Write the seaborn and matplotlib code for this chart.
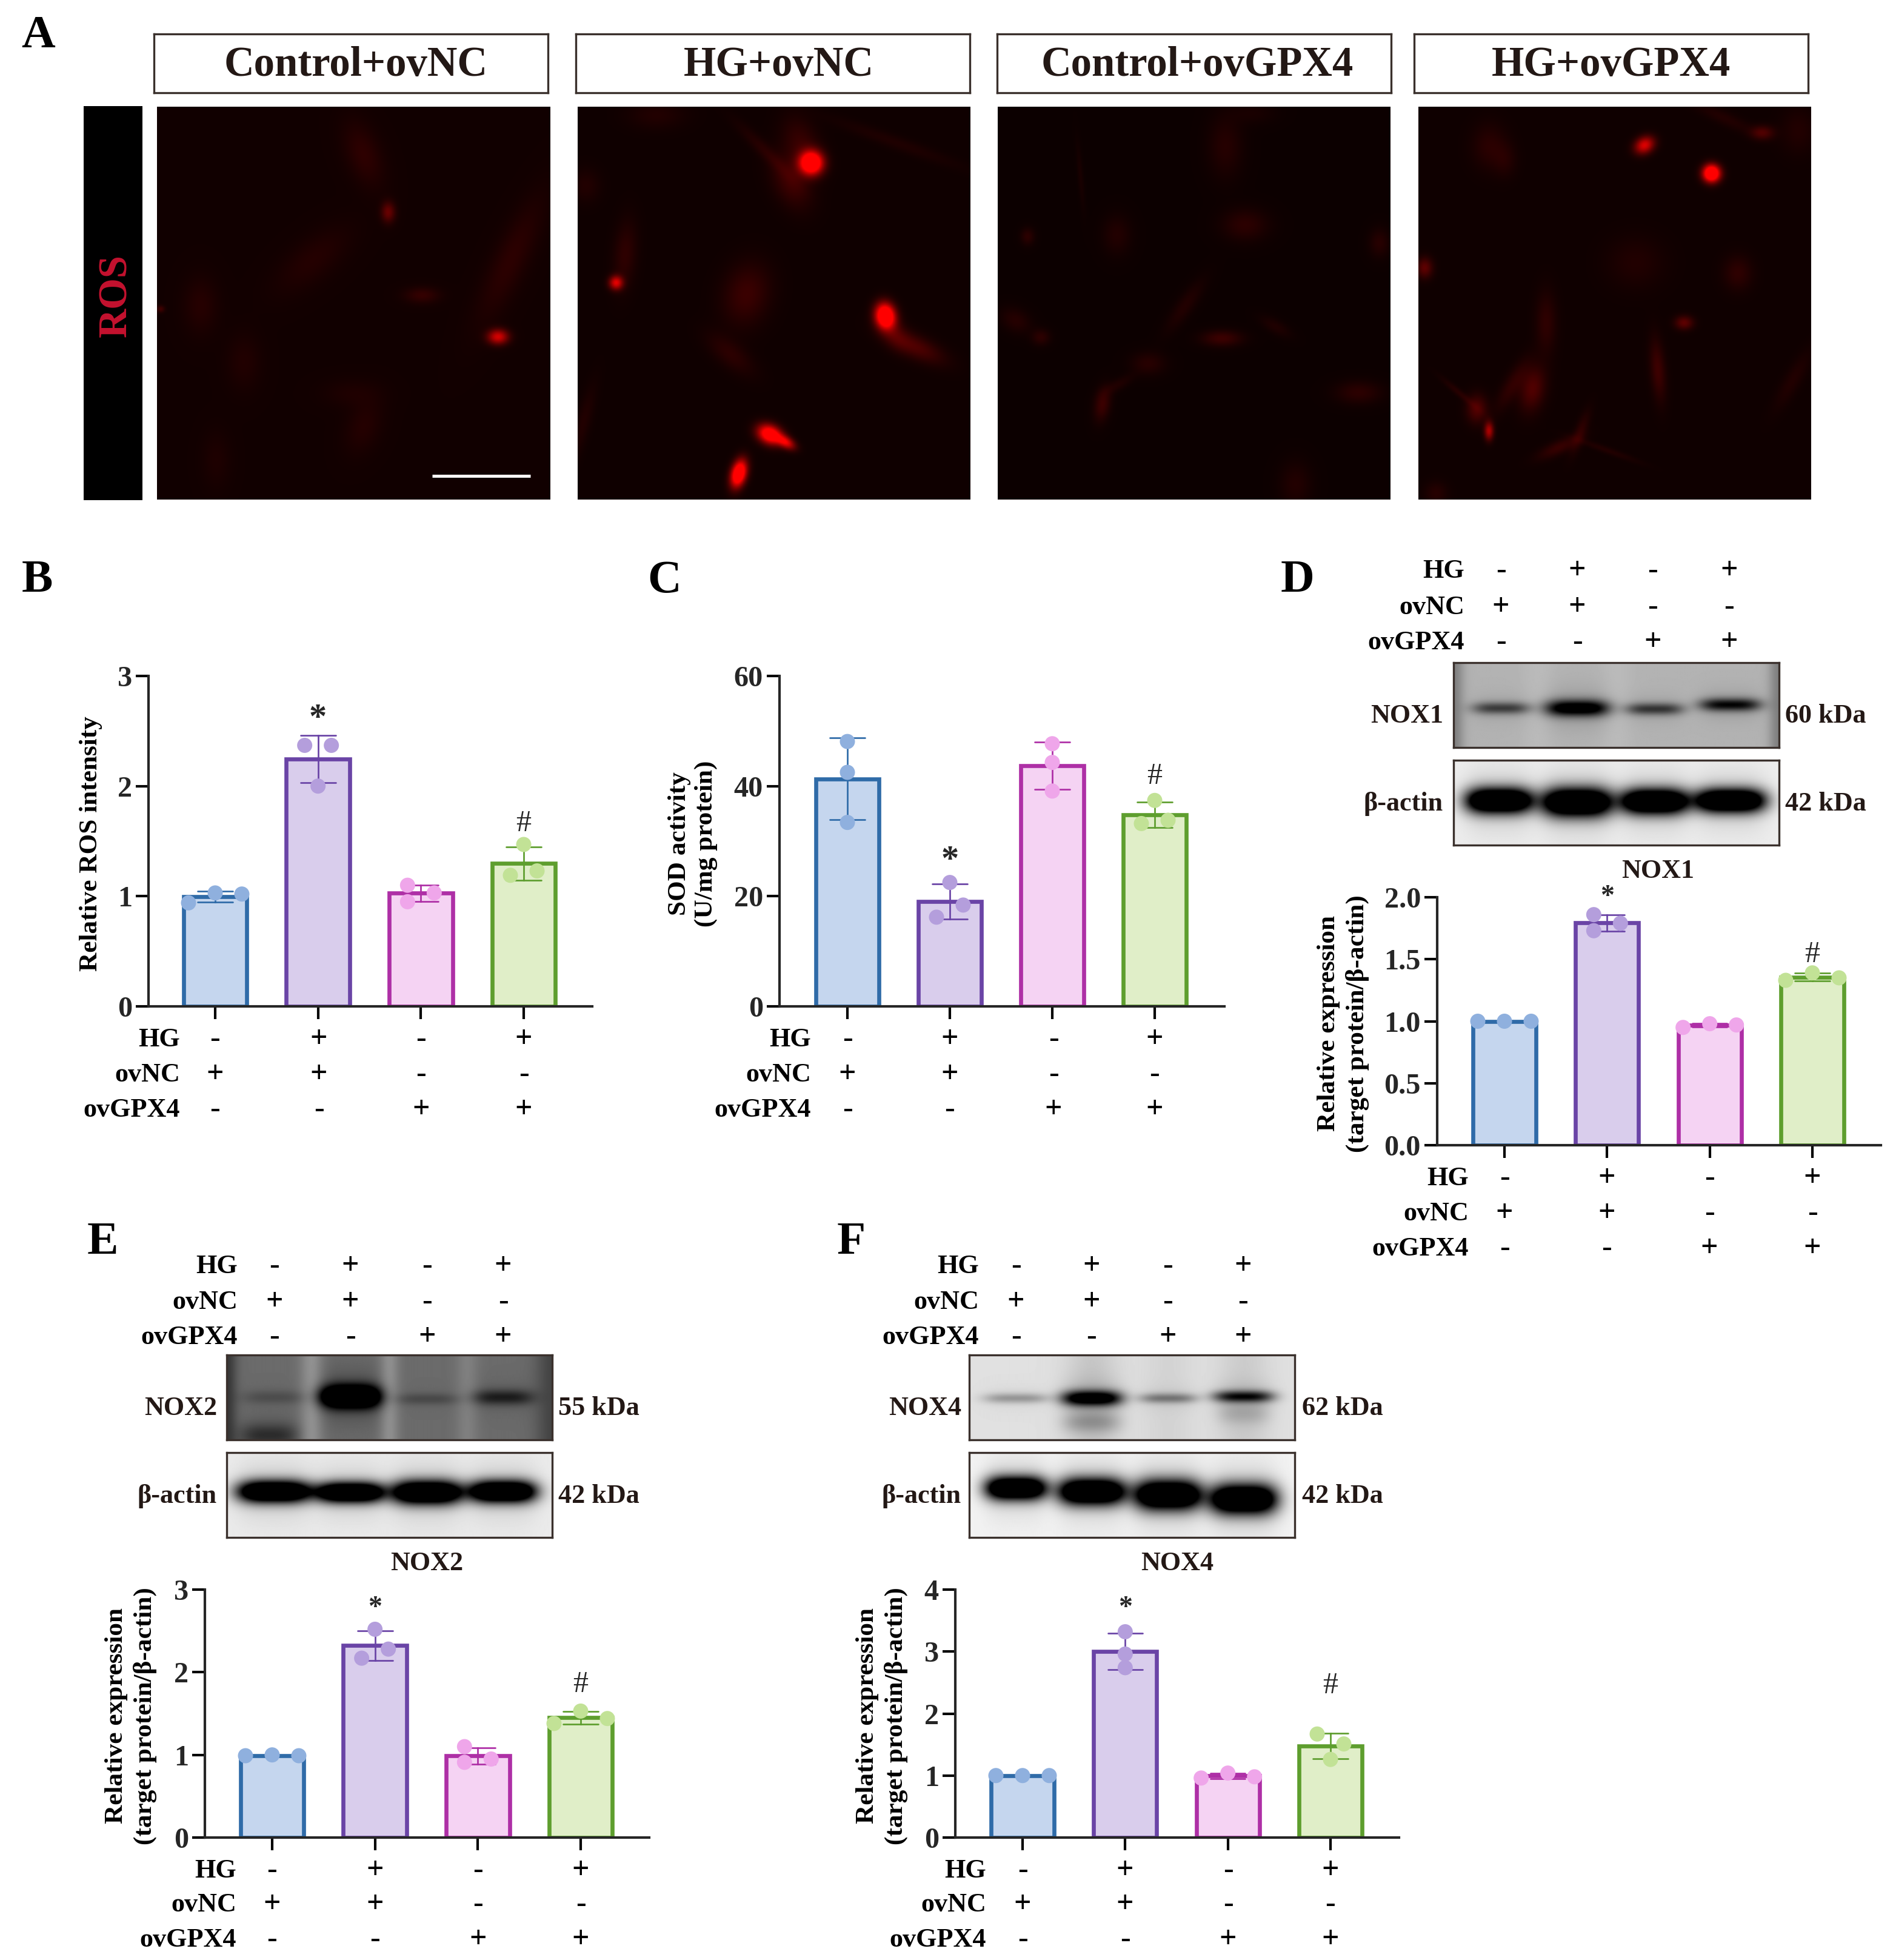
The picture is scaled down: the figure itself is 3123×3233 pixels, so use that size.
import numpy as np
import pandas as pd
import matplotlib
matplotlib.use('Agg')
import matplotlib.pyplot as plt
import seaborn as sns

W, H = 3123, 3233

GROUPS = [0, 1, 2, 3]
FILL = ['#C5D6EE', '#D9CDEC', '#F5D3F3', '#E0EEC8']
EDGE = ['#2F6BA8', '#6A44A6', '#AE2FA6', '#5E9E2E']
DOTS = ['#8FB0DE', '#B49EDC', '#EFA6EA', '#C2E296']

HG = ['-', '+', '-', '+']
OVNC = ['+', '+', '-', '-']
OVGPX4 = ['-', '-', '+', '+']
ROW_NAMES = ['HG', 'ovNC', 'ovGPX4']
HEADERS = ['Control+ovNC', 'HG+ovNC', 'Control+ovGPX4', 'HG+ovGPX4']

# three replicates per group
ROS = [[0.94, 1.03, 1.02], [2.37, 2.37, 2.00], [1.10, 1.03, 0.95], [1.47, 1.23, 1.19]]
SOD = [[48.1, 42.5, 33.4], [22.5, 18.4, 16.2], [47.7, 44.3, 39.1], [37.4, 33.8, 33.2]]
NOX1 = [[1.00, 1.00, 1.00], [1.86, 1.79, 1.73], [0.95, 0.98, 0.97], [1.33, 1.39, 1.35]]
NOX2 = [[0.99, 1.00, 0.99], [2.52, 2.28, 2.17], [1.10, 0.95, 0.91], [1.38, 1.53, 1.44]]
NOX4 = [[1.00, 1.00, 1.00], [3.32, 2.96, 2.74], [0.96, 1.04, 0.98], [1.67, 1.51, 1.26]]

# side of the bar centre each dot sits on
ROS_SIDE = [[-2, 0, 2], [-1, 1, 0], [-1, 1, -1], [0, 1, -1]]
SOD_SIDE = [[0, 0, 0], [0, 1, -1], [0, 0, 0], [0, 1, -1]]
NOX1_SIDE = [[-2, 0, 2], [-1, 1, -1], [-2, 0, 2], [-2, 0, 2]]
NOX2_SIDE = [[-2, 0, 2], [0, 1, -1], [-1, 1, -1], [-2, 0, 2]]
NOX4_SIDE = [[-2, 0, 2], [0, 0, 0], [-2, 0, 2], [-1, 1, 0]]

# micrograph spots: x, y, long, short, angle, brightness
CELLS_1 = [(.525, .12, .06, .03, 70, .18), (.588, .268, .018, .012, 90, .55), (.397, .389, .08, .035, -40, .12),
           (.90, .39, .12, .03, -65, .17), (.674, .48, .03, .014, 0, .22), (.868, .586, .018, .013, 0, .75),
           (.11, .506, .05, .03, 90, .13), (.22, .65, .05, .03, 90, .10), (.495, .73, .05, .025, 0, .08),
           (.525, .815, .05, .03, 110, .12), (.15, .90, .05, .025, 90, .08), (.008, .515, .007, .006, 0, .3)]
CELLS_2 = [(.20, .02, .05, .025, 0, .12), (.595, .142, .02, .02, 0, 1.6), (.57, .095, .05, .03, 70, .25),
           (.543, .19, .05, .03, 65, .3), (.48, .115, .07, .012, 45, .15), (.81, .09, .12, .012, 20, .10),
           (.02, .2, .03, .025, 90, .12), (.12, .376, .06, .02, 95, .2), (.097, .448, .012, .012, 0, .8),
           (.43, .477, .055, .04, 105, .28), (.784, .533, .022, .017, 80, 1.6), (.858, .61, .055, .02, 25, .4),
           (.808, .577, .03, .02, 60, .25), (.389, .63, .05, .022, 40, .18), (.489, .835, .022, .016, 25, 1.3),
           (.53, .855, .018, .01, 30, .8), (.41, .935, .024, .013, 105, 1.5), (.013, .805, .07, .013, 105, .12)]
CELLS_3 = [(.58, .10, .055, .03, 90, .16), (.65, .015, .04, .02, 0, .08), (.21, .175, .06, .005, 85, .08),
           (.075, .33, .015, .012, 90, .2), (.303, .326, .035, .025, 90, .14), (.63, .30, .04, .028, 0, .2),
           (.973, .346, .025, .018, 90, .17), (.477, .507, .055, .015, -55, .14), (.045, .544, .028, .02, 30, .16),
           (.109, .587, .016, .014, 0, .2), (.571, .59, .035, .014, 0, .3), (.708, .56, .03, .012, 30, .12),
           (.383, .654, .03, .02, 0, .17), (.306, .708, .03, .01, -30, .12), (.266, .758, .03, .014, 100, .3),
           (.92, .728, .04, .02, 0, .2), (.759, .962, .04, .028, 90, .14)]
CELLS_4 = [(.18, .10, .04, .03, 90, .17), (.22, .135, .03, .02, 90, .12), (.576, .097, .018, .014, -30, .8),
           (.747, .169, .015, .015, 0, 1.6), (.877, .065, .02, .012, 0, .4), (.78, .028, .06, .012, 25, .12),
           (.968, .06, .04, .03, 90, .12), (.015, .41, .018, .014, 90, .5), (.553, .396, .05, .045, 0, .12),
           (.814, .423, .03, .025, 90, .2), (.325, .55, .055, .018, 90, .2), (.29, .718, .04, .022, 100, .42),
           (.238, .71, .05, .015, -60, .2), (.148, .77, .025, .018, 90, .42), (.104, .73, .04, .006, 40, .15),
           (.179, .826, .016, .008, 90, .6), (.677, .55, .016, .012, 0, .5), (.61, .67, .055, .013, 85, .3),
           (.412, .83, .04, .01, -70, .2), (.358, .868, .04, .012, -25, .25), (.479, .875, .06, .006, 20, .12),
           (.954, .697, .06, .015, -60, .12), (.044, .985, .02, .02, 0, .15)]

# blot bands: x, half width, y, half height, darkness
NOX1_BANDS = [(.146, .09, .54, .07, .42), (.38, .10, .54, .095, .80), (.618, .09, .55, .07, .45), (.851, .095, .50, .075, .62)]
NOX1_ACTIN = [(.14, .105, .48, .15, 1.5), (.38, .11, .50, .17, 1.5), (.618, .105, .49, .15, 1.5), (.851, .11, .48, .14, 1.5)]
NOX2_BANDS = [(.146, .10, .50, .08, .10), (.38, .095, .49, .13, .95), (.616, .10, .52, .07, .12), (.849, .095, .50, .09, .28), (.13, .09, .95, .14, .22)]
NOX2_ACTIN = [(.146, .115, .46, .13, 1.5), (.38, .105, .47, .12, 1.5), (.616, .11, .47, .14, 1.5), (.849, .105, .46, .13, 1.5)]
NOX4_BANDS = [(.143, .10, .51, .06, .26), (.376, .095, .51, .09, .95), (.61, .09, .51, .06, .34), (.842, .095, .49, .07, .70), (.376, .09, .80, .12, .18), (.842, .08, .70, .13, .12)]
NOX4_ACTIN = [(.143, .095, .42, .14, 1.5), (.376, .105, .46, .16, 1.5), (.61, .105, .50, .18, 1.5), (.842, .105, .55, .18, 1.5)]

sns.set_theme(style='ticks')
plt.rcParams['font.family'] = ['Liberation Serif', 'DejaVu Serif']
plt.rcParams['font.weight'] = 'bold'
plt.rcParams['axes.linewidth'] = 1.0

fig = plt.figure(figsize=(W / 300, H / 300), dpi=300)


def px_axes(x0, y0, x1, y1):
    return fig.add_axes([x0 / W, 1 - y1 / H, (x1 - x0) / W, (y1 - y0) / H])


def put(x, y, s, size=10.6, ha='right', color='black', **kw):
    # the +4 keeps text visually centred on its row
    fig.text(x / W, 1 - (y + 4) / H, s, fontsize=size, ha=ha, va='center', color=color, **kw)


def sign_table(right, cols, rows):
    for name, row_y, signs in zip(ROW_NAMES, rows, [HG, OVNC, OVGPX4]):
        put(right, row_y, name)
        for cx, sign in zip(cols, signs):
            put(cx, row_y, sign, size=12, ha='center')


def bar_panel(values, sides, ymax, ticks, rect, centres, ylabel, label_x, star, hash_,
              fmt='%d', star_size=11, spacing=1.3):
    x0, y0, x1, y1 = rect
    ax = px_axes(x0, y0, x1, y1)
    step = (centres[-1] - centres[0]) / 3
    df = pd.DataFrame({
        'group': np.repeat(GROUPS, 3),
        'value': np.ravel(values),
        'side': np.ravel(sides),
    })
    df['pos'] = df['group'] + df['side'] * 22 / step
    sns.barplot(data=df, x='group', y='value', hue='group', palette=dict(zip(GROUPS, FILL)),
                saturation=1, dodge=False, width=0.615, estimator='mean', errorbar='sd',
                capsize=0.34, err_kws={'linewidth': 0.65}, legend=False, ax=ax)
    for g, cont in enumerate(ax.containers):
        for bar in cont:
            bar.set_edgecolor(EDGE[g])
            bar.set_linewidth(1.6)
    for line in ax.lines:
        xs = np.asarray(line.get_xdata(), dtype=float)
        if np.isnan(xs).all():
            continue
        line.set_color(EDGE[int(round(np.nanmean(xs)))])
        line.set_clip_on(False)
        line.set_zorder(3)
    sns.scatterplot(data=df, x='pos', y='value', hue='group', palette=dict(zip(GROUPS, DOTS)),
                    s=36, linewidth=0, legend=False, clip_on=False, zorder=4, ax=ax)
    ax.set_xlim((x0 - centres[0]) / step, 3 + (x1 - centres[-1]) / step)
    ax.set_ylim(0, ymax)
    ax.set_yticks(ticks)
    ax.set_yticklabels([fmt % t for t in ticks], fontsize=11.6, fontweight='bold')
    ax.set_xticks(GROUPS)
    ax.set_xticklabels([])
    ax.tick_params(length=5, width=1, color='black', pad=1.5)
    ax.set_xlabel('')
    ax.set_ylabel('')
    ax.patch.set_alpha(0)
    sns.despine(ax=ax)
    ax.text(1, star, '*', fontsize=star_size, ha='center', va='center')
    ax.text(3, hash_, '#', fontsize=12, ha='center', va='center', fontweight='normal')
    put(label_x, (y0 + y1) / 2, ylabel, size=10.4, ha='center', rotation=90, linespacing=spacing)
    return ax


def micrograph(x0, cells, bg):
    ax = px_axes(x0, 176, x0 + 648, 824)
    n = 420
    yy, xx = np.mgrid[0:1:n * 1j, 0:1:n * 1j]
    red = np.full((n, n), bg)
    for cx, cy, a, b, ang, amp in cells:
        t = np.deg2rad(ang)
        u = (xx - cx) * np.cos(t) + (yy - cy) * np.sin(t)
        v = -(xx - cx) * np.sin(t) + (yy - cy) * np.cos(t)
        # faint cell bodies sit well under the nuclei in the photographs
        level = amp * 0.6 if amp < 0.6 else amp
        red = red + level * np.exp(-0.5 * ((u / a) ** 2 + (v / b) ** 2))
    img = np.zeros((n, n, 3))
    img[..., 0] = np.clip(red, 0, 1)
    ax.imshow(img, aspect='auto', extent=(0, 1, 1, 0))
    ax.axis('off')
    return ax


def blot(rect, bg, bands, streaks=()):
    x0, y0, x1, y1 = rect
    ax = px_axes(x0, y0, x1, y1)
    yy, xx = np.mgrid[0:1:140j, 0:1:540j]
    img = np.full(xx.shape, float(bg))
    for xc, wid, delta in streaks:
        img = img + delta * np.exp(-((xx - xc) / wid) ** 2)
    for xc, hw, yc, hh, dark in bands:
        across = np.exp(-np.abs((xx - xc) / hw) ** 3.5)
        img = img - dark * across * np.exp(-((yy - yc) / hh) ** 2)
        img = img - 0.12 * min(dark, 1) * across * np.exp(-((yy - yc) / (hh * 2.6)) ** 2)
    ax.imshow(np.clip(img, 0, 1), cmap='gray', vmin=0, vmax=1, aspect='auto', extent=(0, 1, 1, 0))
    ax.set_xticks([])
    ax.set_yticks([])
    for sp in ax.spines.values():
        sp.set_linewidth(0.8)
        sp.set_color('#3A302C')


def blot_panel(box_x, tops, name, kda, bands, actin, bg, streaks, label_r, kda_l, title_x, title_y, actin_bg=.93):
    blot((box_x[0], tops[0], box_x[1], tops[0] + 140), bg, bands, streaks)
    blot((box_x[0], tops[1], box_x[1], tops[1] + 140), actin_bg, actin)
    put(label_r, tops[0] + 84, name, color='#231815')
    put(label_r, tops[1] + 68, 'β-actin', color='#231815')
    put(kda_l, tops[0] + 84, kda, ha='left', color='#231815')
    put(kda_l, tops[1] + 68, '42 kDa', ha='left', color='#231815')
    put(title_x, title_y, name, ha='center', color='#231815')


# panel A
for hx, tx, text in zip([254, 950, 1645, 2333], [587, 1285, 1975, 2658], HEADERS):
    box = px_axes(hx, 56, hx + 650, 153)
    box.set_xticks([])
    box.set_yticks([])
    for sp in box.spines.values():
        sp.set_linewidth(0.8)
        sp.set_color('#3A302C')
    put(tx, 104, text, size=16.5, ha='center', color='#231815')

tag = px_axes(138, 175, 235, 825)
tag.set_facecolor('black')
tag.set_xticks([])
tag.set_yticks([])
for sp in tag.spines.values():
    sp.set_visible(False)
put(192, 484, 'ROS', size=16, ha='center', color='#C4122F', rotation=90)

m1 = micrograph(259, CELLS_1, .07)
micrograph(953, CELLS_2, .06)
micrograph(1646, CELLS_3, .05)
micrograph(2340, CELLS_4, .06)
m1.plot([.70, .95], [.94, .94], color='white', lw=1.2, solid_capstyle='butt')

# letters
for lx, ly, s in [(35, 56, 'A'), (36, 954, 'B'), (1068, 954, 'C'), (2113, 954, 'D'), (144, 2046, 'E'), (1381, 2046, 'F')]:
    put(lx, ly, s, size=18.5, ha='left')

# bar panels
bar_panel(ROS, ROS_SIDE, 3, [0, 1, 2, 3], (245, 1115, 977, 1660), [355, 526, 695, 864],
          'Relative ROS intensity', 150, 2.61, 1.66, star_size=14)
sign_table(297, [355, 526, 695, 864], [1711, 1769, 1827])

bar_panel(SOD, SOD_SIDE, 60, [0, 20, 40, 60], (1286, 1115, 2020, 1660), [1398, 1567, 1738, 1905],
          'SOD activity\n(U/mg protein)', 1143, 26.4, 41.8, star_size=14, spacing=1.2)
sign_table(1338, [1398, 1567, 1738, 1905], [1711, 1769, 1827])

bar_panel(NOX1, NOX1_SIDE, 2, [0, .5, 1, 1.5, 2], (2371, 1480, 3103, 1889), [2482, 2651, 2820, 2990],
          'Relative expression\n(target protein/β-actin)', 2216, 2.0, 1.535, fmt='%.1f')
sign_table(2423, [2482, 2651, 2820, 2990], [1940, 1998, 2056])

bar_panel(NOX2, NOX2_SIDE, 3, [0, 1, 2, 3], (338, 2622, 1071, 3031), [449, 619, 789, 958],
          'Relative expression\n(target protein/β-actin)', 216, 2.77, 1.85)
sign_table(390, [449, 619, 789, 958], [3082, 3138, 3196])

bar_panel(NOX4, NOX4_SIDE, 4, [0, 1, 2, 3, 4], (1576, 2622, 2308, 3031), [1687, 1856, 2026, 2195],
          'Relative expression\n(target protein/β-actin)', 1455, 3.70, 2.45)
sign_table(1627, [1687, 1856, 2026, 2195], [3082, 3138, 3196])

# blots with their sign rows
sign_table(2416, [2476, 2602, 2727, 2853], [938, 998, 1056])
blot_panel((2398, 2935), (1093, 1254), 'NOX1', '60 kDa', NOX1_BANDS, NOX1_ACTIN, .70,
           [(.26, .05, .03), (.5, .05, .03), (0, .03, -.2), (1, .03, -.2)], 2381, 2945, 2735, 1433)
sign_table(392, [453, 578, 705, 830], [2085, 2144, 2202])
blot_panel((374, 911), (2235, 2396), 'NOX2', '55 kDa', NOX2_BANDS, NOX2_ACTIN, .42,
           [(.26, .035, .15), (.5, .03, .14), (.74, .035, .08), (0, .03, -.2), (1, .05, -.15)], 358, 921, 704, 2575, actin_bg=.92)
sign_table(1615, [1676, 1801, 1927, 2051], [2085, 2144, 2202])
blot_panel((1599, 2136), (2235, 2396), 'NOX4', '62 kDa', NOX4_BANDS, NOX4_ACTIN, .88,
           [(.376, .08, -.1), (.61, .08, -.05), (.842, .08, -.08)], 1586, 2148, 1942, 2575, actin_bg=.95)

fig.savefig('out.png', dpi=300, facecolor='white')
